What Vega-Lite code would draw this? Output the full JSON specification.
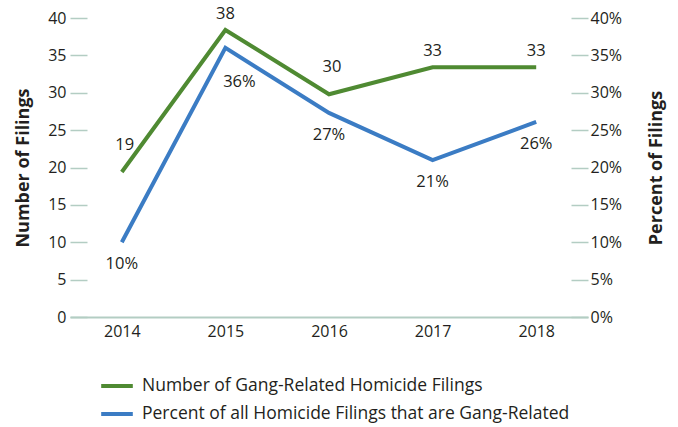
{
  "$schema": "https://vega.github.io/schema/vega-lite/v6.json",
  "width": 518,
  "height": 299,
  "autosize": "none",
  "padding": {"left": 70, "top": 18, "right": 90, "bottom": 110},
  "background": "white",
  "config": {
    "view": {"stroke": null},
    "font": "Open Sans",
    "axis": {"labelColor": "#231f20", "titleColor": "#231f20", "labelFont": "Open Sans", "titleFont": "Open Sans"},
    "legend": {"labelColor": "#231f20", "labelFont": "Open Sans"},
    "text": {"font": "Open Sans", "color": "#231f20", "fontSize": 16.5}
  },
  "data": {
    "values": [
      {"year": "2014", "number": 19.4, "percent": 0.100},
      {"year": "2015", "number": 38.4, "percent": 0.360},
      {"year": "2016", "number": 29.8, "percent": 0.273},
      {"year": "2017", "number": 33.4, "percent": 0.210},
      {"year": "2018", "number": 33.4, "percent": 0.261}
    ]
  },
  "encoding": {
    "x": {
      "field": "year",
      "type": "ordinal",
      "scale": {"type": "point", "padding": 0.5},
      "axis": {
        "title": null,
        "labelAngle": 0,
        "ticks": false,
        "domainColor": "#b3cdc3",
        "domainWidth": 2,
        "labelFontSize": 16,
        "labelPadding": 6
      }
    },
    "color": {
      "type": "nominal",
      "scale": {
        "domain": ["Number of Gang-Related Homicide Filings", "Percent of all Homicide Filings that are Gang-Related"],
        "range": ["#4f8a32", "#3b7cc4"]
      },
      "legend": {
        "title": null,
        "orient": "none",
        "legendX": 29,
        "legendY": 350,
        "direction": "vertical",
        "symbolType": "stroke",
        "symbolSize": 1000,
        "symbolStrokeWidth": 4,
        "labelFontSize": 17.5,
        "labelLimit": 600,
        "labelOffset": 7,
        "rowPadding": 1
      }
    }
  },
  "layer": [
    {
      "encoding": {
        "y": {
          "field": "number",
          "type": "quantitative",
          "scale": {"domain": [0, 40]},
          "axis": {
            "orient": "left",
            "title": "Number of Filings",
            "titleFontSize": 18,
            "titleFontWeight": "bold",
            "titlePadding": 15,
            "values": [0, 5, 10, 15, 20, 25, 30, 35, 40],
            "grid": false,
            "domain": false,
            "tickSize": -17,
            "tickColor": "#b3cdc3",
            "tickWidth": 1.5,
            "labelFontSize": 16,
            "labelPadding": 21
          }
        }
      },
      "layer": [
        {
          "mark": {"type": "line", "strokeWidth": 4},
          "encoding": {"color": {"datum": "Number of Gang-Related Homicide Filings"}}
        },
        {
          "transform": [{"filter": "datum.year != '2014' && datum.year != '2016'"}],
          "mark": {"type": "text", "dy": -16},
          "encoding": {"text": {"field": "number", "type": "quantitative", "format": ".0f"}}
        },
        {
          "transform": [{"filter": "datum.year == '2014' || datum.year == '2016'"}],
          "mark": {"type": "text", "dy": -27, "dx": 3},
          "encoding": {"text": {"field": "number", "type": "quantitative", "format": ".0f"}}
        }
      ]
    },
    {
      "encoding": {
        "y": {
          "field": "percent",
          "type": "quantitative",
          "scale": {"domain": [0, 0.4]},
          "axis": {
            "orient": "right",
            "title": "Percent of Filings",
            "titleFontSize": 18,
            "titleFontWeight": "bold",
            "titleAngle": 270,
            "titlePadding": 44,
            "format": ".0%",
            "values": [0, 0.05, 0.1, 0.15, 0.2, 0.25, 0.3, 0.35, 0.4],
            "grid": false,
            "domain": false,
            "tickSize": -17,
            "tickColor": "#b3cdc3",
            "tickWidth": 1.5,
            "labelFontSize": 16,
            "labelPadding": 19
          }
        }
      },
      "layer": [
        {
          "mark": {"type": "line", "strokeWidth": 4},
          "encoding": {"color": {"datum": "Percent of all Homicide Filings that are Gang-Related"}}
        },
        {
          "transform": [{"filter": "datum.year != '2015'"}],
          "mark": {"type": "text", "dy": 22},
          "encoding": {"text": {"field": "percent", "type": "quantitative", "format": ".0%"}}
        },
        {
          "transform": [{"filter": "datum.year == '2015'"}],
          "mark": {"type": "text", "dy": 34, "dx": 14},
          "encoding": {"text": {"field": "percent", "type": "quantitative", "format": ".0%"}}
        }
      ]
    }
  ],
  "resolve": {"scale": {"y": "independent"}}
}
